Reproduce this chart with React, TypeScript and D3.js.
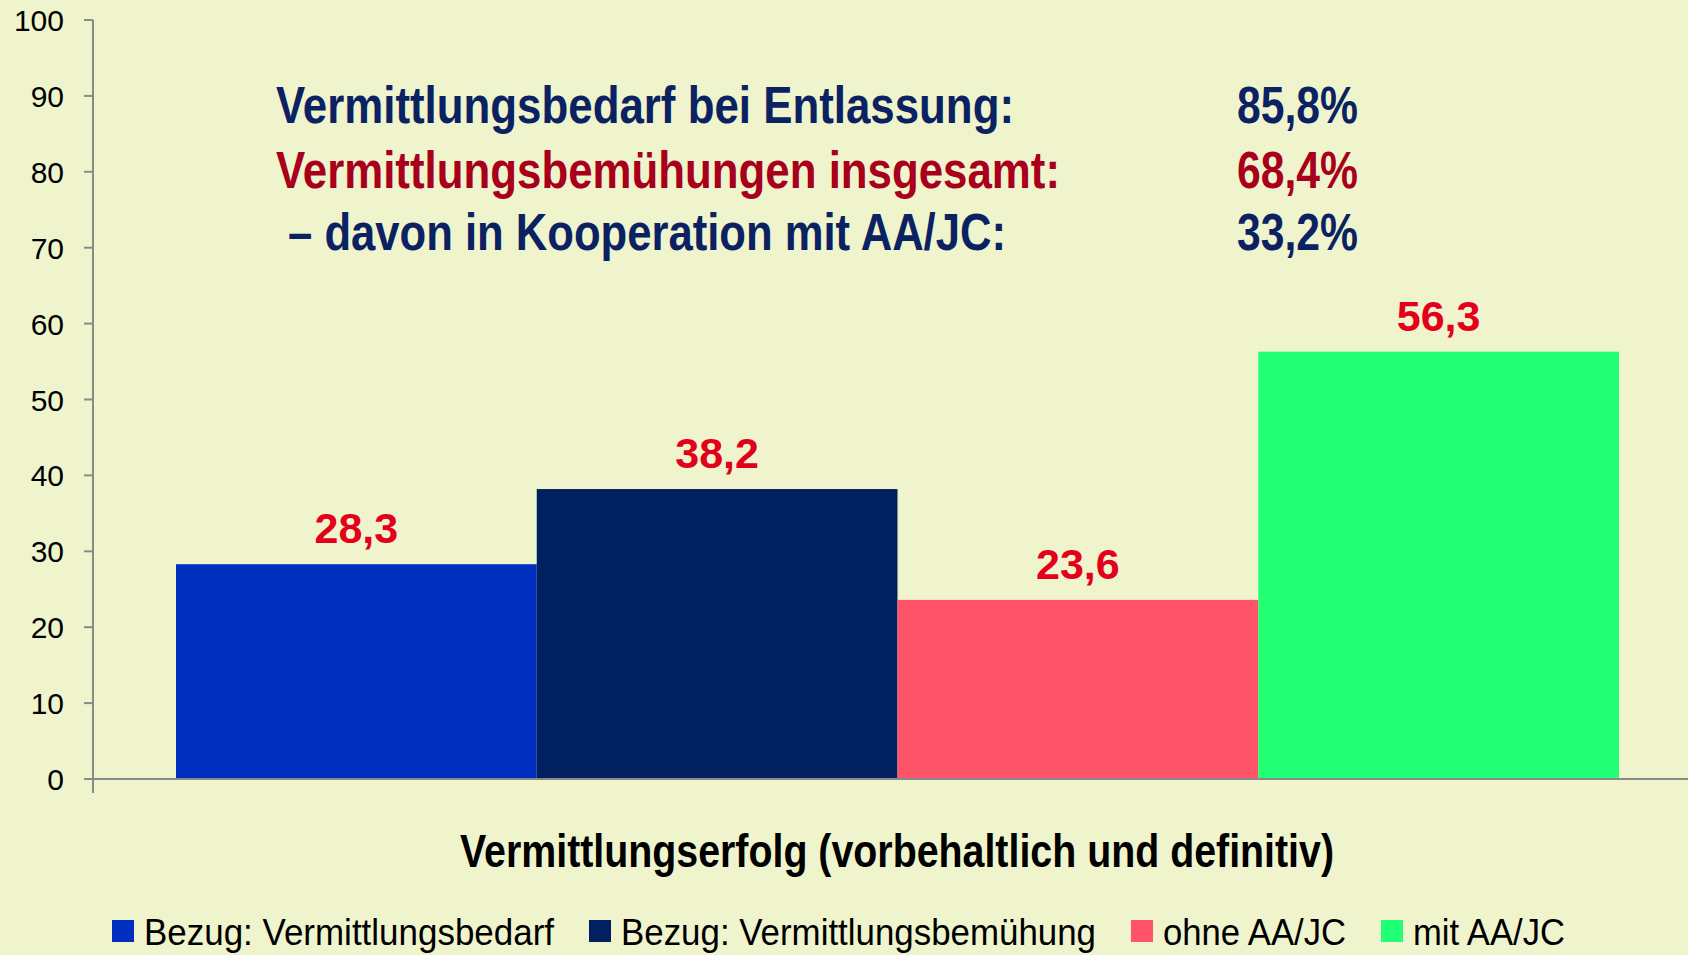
import React from 'react';
import { scaleBand, scaleLinear } from 'd3';

// Werte aus der Vorlage
const SERIES = ['Bezug: Vermittlungsbedarf', 'Bezug: Vermittlungsbemühung', 'ohne AA/JC', 'mit AA/JC'];
const VALUES = [28.3, 38.2, 23.6, 56.3];
const Y_TICKS = [0, 10, 20, 30, 40, 50, 60, 70, 80, 90, 100];
const NOTE_LABELS = ['Vermittlungsbedarf bei Entlassung:', 'Vermittlungsbemühungen insgesamt:', ' – davon in Kooperation mit AA/JC:'];
const NOTE_VALUES = ['85,8%', '68,4%', '33,2%'];
const X_TITLE = 'Vermittlungserfolg (vorbehaltlich und definitiv)';

const W = 1688;
const H = 955;
const BG = '#eff4cd';
const AXIS = '#8a8a8a';
const BAR_COLORS = ['#002ebe', '#00205f', '#ff5469', '#23ff75'];
const NOTE_COLORS = ['#0b2262', '#a8001c', '#0b2262'];
const LABEL_RED = '#e2001a';
const NARROW = '"Liberation Sans Narrow", "Arial Narrow", "Liberation Sans", Arial, sans-serif';
const SANS = '"Liberation Sans", Arial, sans-serif';

// Layout (Pixel im 1688x955-Bild)
const M = { left: 93, top: 20, bottom: 779 };
const BAR_X = [176, 1619];
const NOTE_X = 276;
const NOTE_LINE_W = [738, 784, 730];
const NOTE_Y = [123, 188, 250];
const NOTE_VAL_RIGHT = 1358;
const LEGEND_SQ = [112, 589, 1131, 1381];
const LEGEND_TXT_W = [410, 475, 183, 152];

export default function App() {
	const y = scaleLinear().domain([0, 100]).range([M.bottom, M.top]);
	const x = scaleBand().domain(SERIES).range(BAR_X).padding(0);

	return (
		<svg
			width={W}
			height={H}
			viewBox={`0 0 ${W} ${H}`}
			style={{ position: 'absolute', left: 0, top: 0, display: 'block', background: BG }}
		>
			<rect x={0} y={0} width={W} height={H} fill={BG} />

			{/* Balken */}
			{SERIES.map((s, i) => (
				<rect
					key={s}
					x={x(s)}
					y={y(VALUES[i])}
					width={x.bandwidth()}
					height={y(0) - y(VALUES[i])}
					fill={BAR_COLORS[i]}
				/>
			))}

			{/* Werte */}
			{SERIES.map((s, i) => (
				<text
					key={s}
					x={(x(s) ?? 0) + x.bandwidth() / 2}
					y={y(VALUES[i]) - 21}
					textAnchor="middle"
					fontFamily={SANS}
					fontWeight="bold"
					fontSize={43}
					fill={LABEL_RED}
				>
					{VALUES[i].toFixed(1).replace('.', ',')}
				</text>
			))}

			{/* Achsen */}
			<line x1={M.left} x2={M.left} y1={y(100)} y2={y(0) + 14} stroke={AXIS} strokeWidth={2} />
			<line x1={M.left - 9} x2={W} y1={y(0)} y2={y(0)} stroke={AXIS} strokeWidth={2} />
			{Y_TICKS.map((t) => (
				<g key={t}>
					<line x1={M.left - 9} x2={M.left} y1={y(t)} y2={y(t)} stroke={AXIS} strokeWidth={2} />
					<text
						x={64}
						y={y(t) + 11}
						textAnchor="end"
						fontFamily={SANS}
						fontSize={30}
						fill="#000"
					>
						{t}
					</text>
				</g>
			))}

			{/* Kennzahlen */}
			{NOTE_LABELS.map((l, i) => (
				<g key={l} fill={NOTE_COLORS[i]} fontFamily={NARROW} fontWeight="bold" fontSize={52}>
					<text
						x={NOTE_X}
						y={NOTE_Y[i]}
						textLength={NOTE_LINE_W[i]}
						lengthAdjust="spacingAndGlyphs"
						style={{ whiteSpace: 'pre' }}
					>
						{l}
					</text>
					<text
						x={NOTE_VAL_RIGHT - 121}
						y={NOTE_Y[i]}
						textLength={121}
						lengthAdjust="spacingAndGlyphs"
					>
						{NOTE_VALUES[i]}
					</text>
				</g>
			))}

			{/* x-Titel */}
			<text
				x={460}
				y={867}
				textLength={874}
				lengthAdjust="spacingAndGlyphs"
				fontFamily={NARROW}
				fontWeight="bold"
				fontSize={47}
				fill="#000"
			>
				{X_TITLE}
			</text>

			{/* Legende */}
			{SERIES.map((s, i) => (
				<g key={s}>
					<rect x={LEGEND_SQ[i]} y={920} width={22} height={22} fill={BAR_COLORS[i]} />
					<text
						x={LEGEND_SQ[i] + 32}
						y={945}
						textLength={LEGEND_TXT_W[i]}
						lengthAdjust="spacingAndGlyphs"
						fontFamily={NARROW}
						fontSize={37}
						fill="#000"
					>
						{s}
					</text>
				</g>
			))}
		</svg>
	);
}
